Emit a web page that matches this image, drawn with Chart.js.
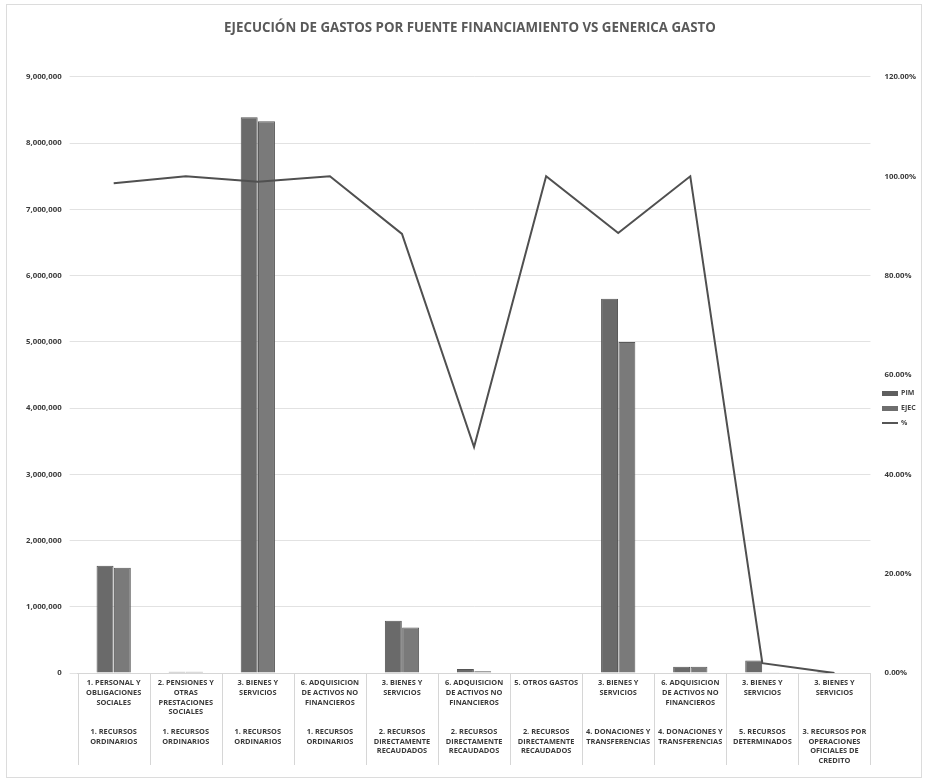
<!DOCTYPE html>
<html>
<head>
<meta charset="utf-8">
<script src="https://cdn.jsdelivr.net/npm/chart.js@4.4.0/dist/chart.umd.min.js"></script>
<style>
  html, body { margin: 0; padding: 0; background: #fff; }
  #wrap { position: relative; width: 926px; height: 780px; }
  #frame { position: absolute; left: 6px; top: 4px; right: 4px; bottom: 2px; border: 1px solid #dcdcdc; pointer-events: none; }
  #legend { position: absolute; left: 882px; top: 385px; font: bold 7px "Open Sans", sans-serif; color: #444; }
  #legend div { height: 15px; line-height: 15px; white-space: nowrap; }
  #legend span { display: inline-block; vertical-align: middle; margin-right: 3px; }
</style>
</head>
<body>
<div id="wrap">
  <canvas id="chart" width="926" height="780"></canvas>
  <div id="frame"></div>
  <div id="legend"></div>
</div>
<script>
// genérica de gasto (upper label level)
const genericas = [
  ['1. PERSONAL Y', 'OBLIGACIONES', 'SOCIALES'],
  ['2. PENSIONES Y', 'OTRAS', 'PRESTACIONES', 'SOCIALES'],
  ['3. BIENES Y', 'SERVICIOS'],
  ['6. ADQUISICION', 'DE ACTIVOS NO', 'FINANCIEROS'],
  ['3. BIENES Y', 'SERVICIOS'],
  ['6. ADQUISICION', 'DE ACTIVOS NO', 'FINANCIEROS'],
  ['5. OTROS GASTOS'],
  ['3. BIENES Y', 'SERVICIOS'],
  ['6. ADQUISICION', 'DE ACTIVOS NO', 'FINANCIEROS'],
  ['3. BIENES Y', 'SERVICIOS'],
  ['3. BIENES Y', 'SERVICIOS'],
];

// fuente de financiamiento (lower label level)
const fuentes = [
  ['1. RECURSOS', 'ORDINARIOS'],
  ['1. RECURSOS', 'ORDINARIOS'],
  ['1. RECURSOS', 'ORDINARIOS'],
  ['1. RECURSOS', 'ORDINARIOS'],
  ['2. RECURSOS', 'DIRECTAMENTE', 'RECAUDADOS'],
  ['2. RECURSOS', 'DIRECTAMENTE', 'RECAUDADOS'],
  ['2. RECURSOS', 'DIRECTAMENTE', 'RECAUDADOS'],
  ['4. DONACIONES Y', 'TRANSFERENCIAS'],
  ['4. DONACIONES Y', 'TRANSFERENCIAS'],
  ['5. RECURSOS', 'DETERMINADOS'],
  ['3. RECURSOS POR', 'OPERACIONES', 'OFICIALES DE', 'CREDITO'],
];

const pim  = [1620000, 20000, 8390000, 10000, 790000, 60000, 8000, 5650000, 95000, 190000, 20000];
const ejec = [1590000, 20000, 8330000, 10000, 690000, 27000, 8000, 5000000, 95000, 4000, 0];
const pct  = [98.6, 100, 98.9, 100, 88.4, 45.5, 100, 88.6, 100, 2, 0];

const leftTicks = { min: 0, max: 9000000, step: 1000000 };
const rightTicks = { min: 0, max: 120, step: 20 };

function buildLabels() {
  return genericas.map((g, i) => {
    const top = g.slice();
    while (top.length < 5) top.push('');
    return top.concat(fuentes[i]);
  });
}

// vertical separators between the category label boxes, like Excel's multi-level axis
const labelDividers = {
  id: 'labelDividers',
  afterDraw(chart) {
    const x = chart.scales.x;
    const c = chart.ctx;
    c.save();
    c.strokeStyle = '#d6d6d6';
    c.lineWidth = 1;
    for (let i = 0; i <= x.ticks.length; i++) {
      const px = Math.round(x.getPixelForValue(i - 0.5)) + 0.5;
      c.beginPath();
      c.moveTo(px, x.top);
      c.lineTo(px, x.bottom + 2);
      c.stroke();
    }
    c.restore();
  }
};

function renderLegend() {
  const items = [
    { text: 'PIM', color: '#5f5f5f', h: 5 },
    { text: 'EJEC', color: '#6e6e6e', h: 5 },
    { text: '%', color: '#555', h: 2 },
  ];
  document.getElementById('legend').innerHTML = items.map(it =>
    `<div><span style="width:16px;height:${it.h}px;background:${it.color}"></span>${it.text}</div>`
  ).join('');
}

function createChart() {
  const ctx = document.getElementById('chart').getContext('2d');
  const tickFont = { family: '"Open Sans", sans-serif', size: 7.8, weight: 'bold' };
  new Chart(ctx, {
    data: {
      labels: buildLabels(),
      datasets: [
        {
          type: 'line',
          label: '%',
          data: pct,
          yAxisID: 'y1',
          borderColor: '#505050',
          borderWidth: 2,
          pointRadius: 0,
          tension: 0,
          order: 0,
        },
        {
          type: 'bar',
          label: 'PIM',
          data: pim,
          yAxisID: 'y',
          backgroundColor: '#6a6a6a',
          borderColor: '#555',
          borderWidth: 1,
          categoryPercentage: 0.48,
          barPercentage: 0.98,
          order: 1,
        },
        {
          type: 'bar',
          label: 'EJEC',
          data: ejec,
          yAxisID: 'y',
          backgroundColor: '#7a7a7a',
          borderColor: '#5a5a5a',
          borderWidth: 1,
          categoryPercentage: 0.48,
          barPercentage: 0.98,
          order: 1,
        },
      ]
    },
    options: {
      responsive: false,
      animation: false,
      layout: { padding: { left: 18, right: 4, top: 8, bottom: 17 } },
      plugins: {
        legend: { display: false },
        tooltip: { enabled: false },
        title: {
          display: true,
          text: 'EJECUCIÓN DE GASTOS POR FUENTE FINANCIAMIENTO VS GENERICA GASTO',
          color: '#595959',
          font: { family: '"Open Sans", sans-serif', size: 13.3, weight: 'bold' },
          padding: { top: 12, bottom: 41 },
        }
      },
      scales: {
        x: {
          offset: true,
          grid: { display: false },
          border: { color: '#d6d6d6' },
          ticks: {
            autoSkip: false,
            maxRotation: 0,
            minRotation: 0,
            padding: -3,
            color: '#3a3a3a',
            font: { family: '"Open Sans", sans-serif', size: 7.4, weight: 'bold', lineHeight: 1.32 },
          }
        },
        y: {
          position: 'left',
          min: leftTicks.min,
          max: leftTicks.max,
          grid: { color: '#e2e2e2' },
          border: { display: false },
          ticks: {
            stepSize: leftTicks.step,
            color: '#3a3a3a',
            font: tickFont,
            padding: 8,
            callback: v => v.toLocaleString('en-US'),
          }
        },
        y1: {
          position: 'right',
          min: rightTicks.min,
          max: rightTicks.max,
          grid: { drawOnChartArea: false, display: false },
          border: { display: false },
          ticks: {
            stepSize: rightTicks.step,
            color: '#3a3a3a',
            font: tickFont,
            padding: 6,
            callback: v => v.toFixed(2) + '%',
          }
        }
      }
    },
    plugins: [labelDividers]
  });
}

window.addEventListener('DOMContentLoaded', () => {
  renderLegend();
  createChart();
});
</script>
</body>
</html>
